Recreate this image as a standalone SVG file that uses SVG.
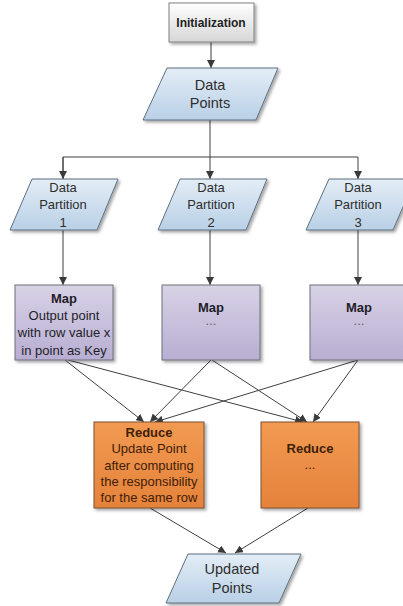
<svg xmlns="http://www.w3.org/2000/svg" width="403" height="606" viewBox="0 0 403 606">
<defs>
<linearGradient id="gGray" x1="0" y1="0" x2="0" y2="1"><stop offset="0" stop-color="#ffffff"/><stop offset="1" stop-color="#d6d6d6"/></linearGradient>
<linearGradient id="gBlue" x1="0" y1="0" x2="0" y2="1"><stop offset="0" stop-color="#e3edf6"/><stop offset="1" stop-color="#b9d0e6"/></linearGradient>
<linearGradient id="gLav" x1="0" y1="0" x2="0" y2="1"><stop offset="0" stop-color="#d8d2e6"/><stop offset="1" stop-color="#b8aed2"/></linearGradient>
<linearGradient id="gOr" x1="0" y1="0" x2="0" y2="1"><stop offset="0" stop-color="#f29a52"/><stop offset="1" stop-color="#e5823a"/></linearGradient>
<filter id="sh" x="-10%" y="-10%" width="130%" height="130%"><feDropShadow dx="2" dy="2" stdDeviation="1.5" flood-color="#000" flood-opacity="0.35"/></filter>
<marker id="ah" viewBox="0 0 10 10" refX="10" refY="5" markerWidth="8" markerHeight="8" markerUnits="userSpaceOnUse" orient="auto"><path d="M0,0 L10,5 L0,10 z" fill="#3a3a3a"/></marker>
</defs>
<style>
text{font-family:"Liberation Sans",Arial,sans-serif;text-anchor:middle;}
.b{font-weight:bold;}
.blue{fill:url(#gBlue);stroke:#5d6f80;stroke-width:1;filter:url(#sh);}
.lav{fill:url(#gLav);stroke:#6e6e78;stroke-width:1;filter:url(#sh);}
.or{fill:url(#gOr);stroke:#7a5030;stroke-width:1;filter:url(#sh);}
.gray{fill:url(#gGray);stroke:#808080;stroke-width:1;filter:url(#sh);}
.dt{font-size:13px;fill:#2e2e2e;}
.dp{font-size:14.5px;fill:#2e2e2e;}
.mt{font-size:13px;fill:#1e1e28;}
.rt{font-size:13px;fill:#3e2008;}
.dots{fill:#666;}
.c{fill:none;stroke:#3f3f3f;stroke-width:1;}
</style>
<g id="connectors">
<path class="c" d="M211,42 V68" marker-end="url(#ah)"/>
<path class="c" d="M210,120 V157"/>
<path class="c" d="M63,179 V157 H358 V179" marker-end="url(#ah)"/>
<path class="c" d="M63,157 V179" marker-end="url(#ah)"/>
<path class="c" d="M210,157 V179" marker-end="url(#ah)"/>
<path class="c" d="M63,230 V285" marker-end="url(#ah)"/>
<path class="c" d="M210,230 V285" marker-end="url(#ah)"/>
<path class="c" d="M358,230 V285" marker-end="url(#ah)"/>
<path class="c" d="M65,360 L144,422" marker-end="url(#ah)"/>
<path class="c" d="M211,360 L150,422" marker-end="url(#ah)"/>
<path class="c" d="M358,360 L155,422" marker-end="url(#ah)"/>
<path class="c" d="M68,360 L303,422" marker-end="url(#ah)"/>
<path class="c" d="M212,360 L307,422" marker-end="url(#ah)"/>
<path class="c" d="M358,360 L313,422" marker-end="url(#ah)"/>
<path class="c" d="M150,508 L226,553" marker-end="url(#ah)"/>
<path class="c" d="M308,508 L235,553" marker-end="url(#ah)"/>
</g>
<g id="initialization">
<rect class="gray" x="169" y="3" width="85" height="39"/>
<text class="b" x="211" y="27" font-size="12" fill="#222">Initialization</text>
</g>
<g id="data-points">
<polygon class="blue" points="167,68 278,68 256,120 143,120"/>
<text class="dp" x="210" y="90">Data</text>
<text class="dp" x="210" y="108">Points</text>
</g>
<g id="partition-1">
<polygon class="blue" points="32,179 118,179 97,230 10,230"/>
<text class="dt" x="63" y="191.5">Data</text>
<text class="dt" x="63" y="208.5">Partition</text>
<text class="dt" x="63" y="226.5">1</text>
</g>
<g id="partition-2">
<polygon class="blue" points="180,179 267,179 246,230 158,230"/>
<text class="dt" x="211" y="191.5">Data</text>
<text class="dt" x="211" y="208.5">Partition</text>
<text class="dt" x="211" y="226.5">2</text>
</g>
<g id="partition-3">
<polygon class="blue" points="329,179 415,179 393,230 306,230"/>
<text class="dt" x="358" y="191.5">Data</text>
<text class="dt" x="358" y="208.5">Partition</text>
<text class="dt" x="358" y="226.5">3</text>
</g>
<g id="map-1">
<rect class="lav" x="15" y="285" width="98" height="75"/>
<text class="mt b" x="64" y="302.5">Map</text>
<text class="mt" x="64" y="319.5">Output point</text>
<text class="mt" x="64" y="337">with row value x</text>
<text class="mt" x="64" y="354.5">in point as Key</text>
</g>
<g id="map-2">
<rect class="lav" x="162" y="285" width="98" height="75"/>
<text class="mt b" x="211" y="311.5">Map</text>
<text class="mt dots" x="211" y="325">...</text>
</g>
<g id="map-3">
<rect class="lav" x="310" y="285" width="98" height="75"/>
<text class="mt b" x="359" y="311.5">Map</text>
<text class="mt dots" x="359" y="325">...</text>
</g>
<g id="reduce-1">
<rect class="or" x="94" y="422" width="110" height="86"/>
<text class="rt b" x="149" y="436.5">Reduce</text>
<text class="rt" x="149" y="452.5">Update Point</text>
<text class="rt" x="149" y="469.5">after computing</text>
<text class="rt" x="149" y="485.5">the responsibility</text>
<text class="rt" x="149" y="501.5">for the same row</text>
</g>
<g id="reduce-2">
<rect class="or" x="261" y="422" width="98" height="86"/>
<text class="rt b" x="310" y="452.5">Reduce</text>
<text class="rt" x="310" y="468.5">...</text>
</g>
<g id="updated-points">
<polygon class="blue" points="188,554 301,554 279,603 166,603"/>
<text class="dp" x="232" y="574">Updated</text>
<text class="dp" x="232" y="593">Points</text>
</g>
</svg>
